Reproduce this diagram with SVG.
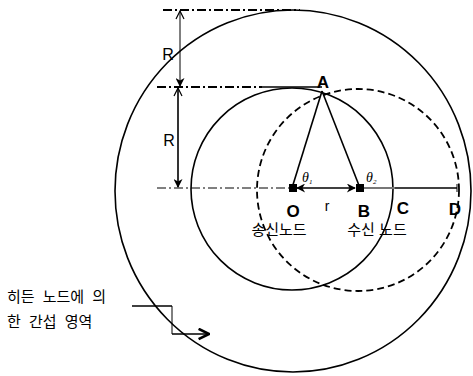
<svg xmlns="http://www.w3.org/2000/svg" width="473" height="376" viewBox="0 0 473 376">
<defs>
<style>
.ln{stroke:#000;fill:none;stroke-width:1.6}
.thin{stroke:#000;fill:none;stroke-width:1}
.dd{stroke:#000;fill:none;stroke-dasharray:9,3,2,3}
.lat{font-family:"Liberation Sans",Arial,sans-serif;fill:#000}
.ko{font-family:"Liberation Sans","Noto Sans CJK KR",sans-serif;fill:#000;font-size:15px}
.bold{font-weight:bold;font-size:17px}
</style>
<marker id="ah" viewBox="0 0 10 10" refX="9" refY="5" markerWidth="10" markerHeight="9" orient="auto-start-reverse" markerUnits="userSpaceOnUse">
<path d="M0,0 L10,5 L0,10 L3,5 Z" fill="#000"/>
</marker>
<marker id="ao" viewBox="0 0 10 10" refX="9" refY="5" markerWidth="10" markerHeight="10" orient="auto-start-reverse" markerUnits="userSpaceOnUse">
<path d="M1,1 L9,5 L1,9" fill="none" stroke="#000" stroke-width="1.2"/>
</marker>
<marker id="ao2" viewBox="0 0 10 10" refX="9" refY="5" markerWidth="13" markerHeight="13" orient="auto" markerUnits="userSpaceOnUse">
<path d="M1,1 L9,5 L1,9" fill="none" stroke="#000" stroke-width="2"/>
</marker>
</defs>

<g id="outer-circle">
<ellipse class="ln" cx="293" cy="191" rx="178" ry="181"/>
</g>
<g id="sender-range">
<circle class="ln" cx="292" cy="189" r="101"/>
</g>
<g id="receiver-range">
<circle cx="358" cy="190" r="101" fill="none" stroke="#000" stroke-width="1.8" stroke-dasharray="7,4"/>
</g>

<g id="connectors">
<line class="dd" x1="163" y1="10" x2="300" y2="10" stroke-width="2"/>
<line class="dd" x1="157" y1="87" x2="262" y2="87" stroke-width="2"/>
<line class="ln" x1="262" y1="87" x2="322" y2="87" stroke-width="2"/>
<line class="dd" x1="157" y1="188" x2="290" y2="188" stroke-width="1"/>
<line class="thin" x1="180" y1="11" x2="180" y2="86" marker-start="url(#ao)" marker-end="url(#ah)"/>
<line class="ln" x1="178" y1="88" x2="178" y2="187" marker-start="url(#ao)" marker-end="url(#ah)"/>
<line class="ln" x1="322" y1="91" x2="292" y2="188"/>
<line class="ln" x1="322" y1="91" x2="360" y2="188"/>
<line class="ln" x1="297" y1="188" x2="355" y2="188" stroke-width="2" marker-start="url(#ah)" marker-end="url(#ah)"/>
<line x1="363" y1="188" x2="395" y2="188" stroke="#777" stroke-width="2"/>
<line class="ln" x1="395" y1="188" x2="457" y2="188" stroke-width="2"/>
<line class="thin" x1="457" y1="184" x2="457" y2="192"/>
<polyline class="thin" points="172,306 172,334"/>
<line class="ln" x1="132" y1="306" x2="172" y2="306" stroke-width="2.5"/>
<line class="ln" x1="172" y1="334" x2="209" y2="334" stroke-width="2.5" marker-end="url(#ao2)"/>
</g>

<g id="node-O">
<rect x="289" y="184" width="8" height="8" fill="#000"/>
<text class="lat bold" x="293" y="217" text-anchor="middle">O</text>
<text class="ko" x="279" y="235" text-anchor="middle">송신노드</text>
</g>
<g id="node-B">
<rect x="356" y="184" width="8" height="8" fill="#000"/>
<text class="lat bold" x="364" y="217" text-anchor="middle">B</text>
<text class="ko" x="377" y="235" text-anchor="middle">수신 노드</text>
</g>
<g id="node-A">
<text class="lat bold" x="323" y="88" text-anchor="middle">A</text>
</g>
<g id="point-C">
<text class="lat bold" x="403" y="214" text-anchor="middle">C</text>
</g>
<g id="point-D">
<text class="lat bold" x="455" y="215" text-anchor="middle">D</text>
</g>
<g id="labels">
<text class="lat" x="168" y="60" font-size="16" text-anchor="middle">R</text>
<text class="lat" x="169" y="146" font-size="16" text-anchor="middle">R</text>
<text class="lat" x="327" y="211" font-size="14" text-anchor="middle">r</text>
<text x="302" y="182" font-family="Liberation Serif,serif" font-style="italic" font-size="14">θ<tspan font-size="7" dy="2">1</tspan></text>
<text x="366" y="182" font-family="Liberation Serif,serif" font-style="italic" font-size="14">θ<tspan font-size="7" dy="2">2</tspan></text>
</g>
<g id="hidden-node-label">
<text class="ko" x="7" y="302" font-size="16" word-spacing="4">히든 노드에 의</text>
<text class="ko" x="7" y="327" font-size="16" word-spacing="4">한 간섭 영역</text>
</g>
</svg>
